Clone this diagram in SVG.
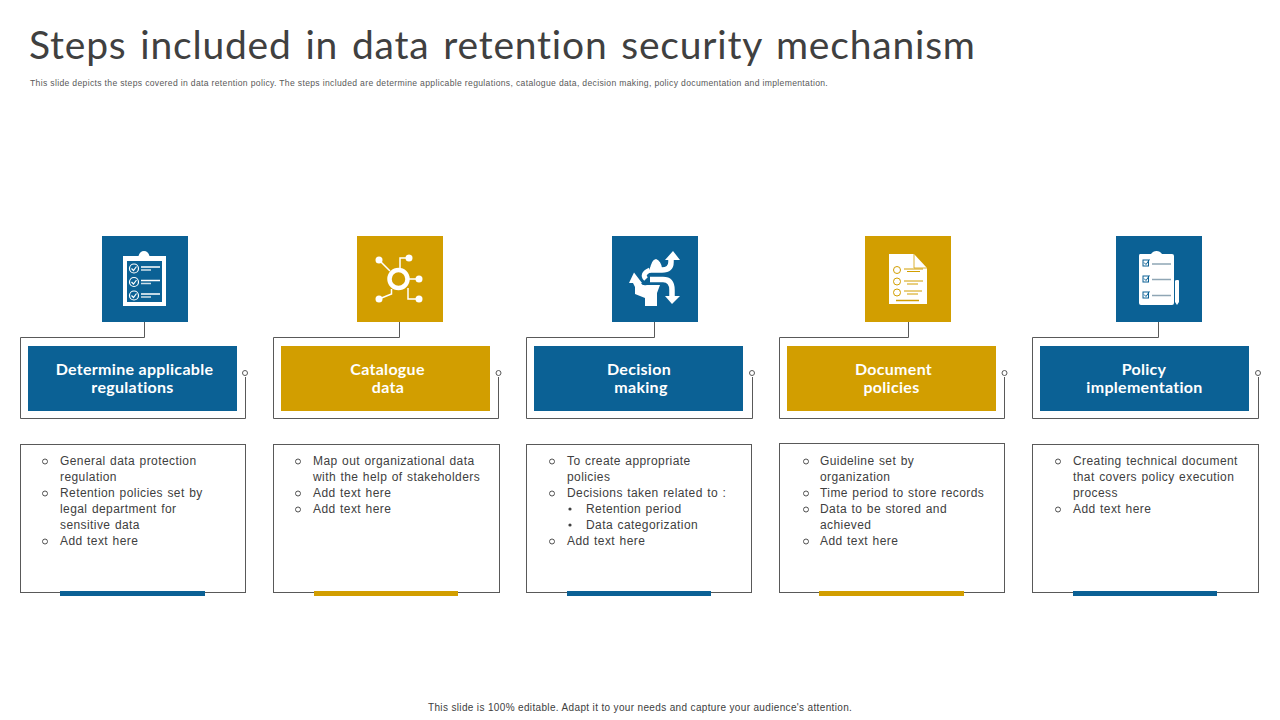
<svg xmlns="http://www.w3.org/2000/svg" width="1280" height="720" viewBox="0 0 1280 720">
<style>
text{font-family:"Liberation Sans",Arial,sans-serif}
.title{font-family:"Lato","Liberation Sans",sans-serif;font-size:39px;font-weight:400;fill:#404040;letter-spacing:.8px;word-spacing:3px}
.sub{font-size:8.6px;fill:#595959;letter-spacing:.33px}
.foot{font-size:10px;fill:#404040;letter-spacing:.35px}
.head{font-family:"Lato","Liberation Sans",sans-serif;font-size:16px;font-weight:700;fill:#fff;text-anchor:middle;letter-spacing:.3px}
.body{font-size:12px;fill:#404040;letter-spacing:.42px;word-spacing:.7px}
.bl{fill:#0b6195}.gd{fill:#d29e00}
.box{fill:#fff;stroke:#595959;stroke-width:1}
.wire{fill:none;stroke:#595959;stroke-width:1}
.dot{fill:#fff;stroke:#595959;stroke-width:1}
.bul{fill:none;stroke:#404040;stroke-width:.9}
.w{fill:#fff}.ws{fill:none;stroke:#fff}
</style>
<text class="title" x="29" y="59">Steps included in data retention security mechanism</text>
<text class="sub" x="30" y="86">This slide depicts the steps covered in data retention policy. The steps included are determine applicable regulations, catalogue data, decision making, policy documentation and implementation.</text>

<g id="connectors">
<path class="wire" d="M144.500 322V337.500H20.500V418.500H245.500V377"/><circle class="dot" cx="245" cy="373" r="2.500"/>
<path class="wire" d="M399.500 322V337.500H273.500V418.500H498.500V377"/><circle class="dot" cx="498.500" cy="373" r="2.500"/>
<path class="wire" d="M654.500 322V337.500H526.500V418.500H752.500V377"/><circle class="dot" cx="752" cy="373" r="2.500"/>
<path class="wire" d="M908.500 322V337.500H779.500V418.500H1004.500V377"/><circle class="dot" cx="1004.500" cy="373" r="2.500"/>
<path class="wire" d="M1158.500 322V337.500H1032.500V418.500H1258.500V377"/><circle class="dot" cx="1258" cy="373" r="2.500"/>
</g>

<g id="node1">
<rect class="bl" x="102" y="236" width="86" height="86"/>
<path class="w" d="M123 256H138.500Q140 251 144 251T149.500 256H166V306H123Z"/>
<rect class="bl" x="127" y="261" width="35" height="41"/>
<g class="ws" stroke-width="1.200"><circle cx="134" cy="268.500" r="4.500"/><circle cx="134" cy="282" r="4.500"/><circle cx="134" cy="295.500" r="4.500"/></g>
<path class="ws" stroke-width="1.200" d="M131.500 268.500l2 2 3-4M131.500 282l2 2 3-4M131.500 295.500l2 2 3-4"/>
<path class="ws" stroke-width="1.500" d="M141 267H160M141 280.500H160M141 294H160"/>
<path class="ws" stroke-width="1.500" d="M141 270H151M141 283.500H151M141 297H151" opacity=".8"/>
<rect class="bl" x="28" y="346" width="209" height="65"/>
<text class="head" x="134.500" y="375">Determine applicable</text>
<text class="head" x="132.500" y="393">regulations</text>
<rect class="box" x="20.500" y="444.500" width="225" height="148"/>
<rect class="bl" x="60" y="591" width="145" height="5"/>
<g class="bul"><circle cx="45" cy="461.500" r="2.500"/><circle cx="45" cy="493.500" r="2.500"/><circle cx="45" cy="541.500" r="2.500"/></g>
<text class="body"><tspan x="60" y="465">General data protection</tspan><tspan x="60" y="481">regulation</tspan><tspan x="60" y="497">Retention policies set by</tspan><tspan x="60" y="513">legal department for</tspan><tspan x="60" y="529">sensitive data</tspan><tspan x="60" y="545">Add text here</tspan></text>
</g>

<g id="node2">
<rect class="gd" x="357" y="236" width="86" height="86"/>
<g class="ws" stroke-width="1.500"><path d="M379 260L390 271M400 268V258H409M408 279H419M408 288V299H419M391.500 289V294L379 299"/></g>
<circle class="ws" cx="398.500" cy="279" r="9" stroke-width="4.500"/>
<g class="w"><circle cx="379" cy="260" r="3.500"/><circle cx="409" cy="258" r="3.500"/><circle cx="419" cy="279" r="3.500"/><circle cx="419" cy="299" r="3.500"/><circle cx="379" cy="299" r="3.500"/></g>
<rect class="gd" x="281" y="346" width="209" height="65"/>
<text class="head" x="387.500" y="375">Catalogue</text>
<text class="head" x="388" y="393">data</text>
<rect class="box" x="273.500" y="444.500" width="226" height="148"/>
<rect class="gd" x="314" y="591" width="144" height="5"/>
<g class="bul"><circle cx="298" cy="461.500" r="2.500"/><circle cx="298" cy="493.500" r="2.500"/><circle cx="298" cy="509.500" r="2.500"/></g>
<text class="body"><tspan x="313" y="465">Map out organizational data</tspan><tspan x="313" y="481">with the help of stakeholders</tspan><tspan x="313" y="497">Add text here</tspan><tspan x="313" y="513">Add text here</tspan></text>
</g>

<g id="node3">
<rect class="bl" x="612" y="236" width="86" height="86"/>
<path class="ws" stroke-width="5.500" d="M650 270H662Q671 270 671 262V258M650 279.500H663Q672 279.500 672 290V297"/>
<path class="w" d="M673 251L680 260H665ZM665 296H680L672 304ZM634 272.500L642 283H629ZM650 270Q651 260 656 259Q661 261 662 268L650 270ZM633 283H641Q642 286 647 285L660 285L657 293V306H645V298L635 294V287Z"/>
<path class="ws" stroke-width="5" d="M650 270Q641 274 646 279"/>
<path d="M649 274H664" stroke="#0b6195" stroke-width="1.500"/>
<rect class="bl" x="534" y="346" width="209" height="65"/>
<text class="head" x="639" y="375">Decision</text>
<text class="head" x="641" y="393">making</text>
<rect class="box" x="526.500" y="444.500" width="225" height="148"/>
<rect class="bl" x="567" y="591" width="144" height="5"/>
<g class="bul"><circle cx="552" cy="461.500" r="2.500"/><circle cx="552" cy="493.500" r="2.500"/><circle cx="552" cy="541.500" r="2.500"/></g>
<circle cx="570" cy="509" r="1.600" fill="#404040"/><circle cx="570" cy="525" r="1.600" fill="#404040"/>
<text class="body"><tspan x="567" y="465">To create appropriate</tspan><tspan x="567" y="481">policies</tspan><tspan x="567" y="497">Decisions taken related to :</tspan><tspan x="586" y="513">Retention period</tspan><tspan x="586" y="529">Data categorization</tspan><tspan x="567" y="545">Add text here</tspan></text>
</g>

<g id="node4">
<rect class="gd" x="865" y="236" width="86" height="86"/>
<path class="w" d="M889 254H914L927 268V304H889Z"/>
<path d="M914 254V268H927" fill="none" stroke="#d29e00" stroke-width=".8"/>
<g fill="none" stroke="#d29e00" stroke-width="1"><circle cx="897" cy="270" r="3.500"/><circle cx="897" cy="281.500" r="3.500"/><circle cx="897" cy="292.500" r="3.500"/><path d="M904 269H923M907 271.500H920M904 281H923M907 284H918M904 291H922M907 294H918"/></g>
<path d="M896 300.500H919" stroke="#d29e00" stroke-width="1.500"/>
<rect class="gd" x="787" y="346" width="209" height="65"/>
<text class="head" x="893.500" y="375">Document</text>
<text class="head" x="891.500" y="393">policies</text>
<rect class="box" x="779.500" y="443.500" width="225" height="149"/>
<rect class="gd" x="819" y="591" width="145" height="5"/>
<g class="bul"><circle cx="806" cy="461.500" r="2.500"/><circle cx="806" cy="493.500" r="2.500"/><circle cx="806" cy="509.500" r="2.500"/><circle cx="806" cy="541.500" r="2.500"/></g>
<text class="body"><tspan x="820" y="465">Guideline set by</tspan><tspan x="820" y="481">organization</tspan><tspan x="820" y="497">Time period to store records</tspan><tspan x="820" y="513">Data to be stored and</tspan><tspan x="820" y="529">achieved</tspan><tspan x="820" y="545">Add text here</tspan></text>
</g>

<g id="node5">
<rect class="bl" x="1116" y="236" width="86" height="86"/>
<path class="w" d="M1140 254H1151Q1153 251 1156.500 251T1162 254H1172Q1174 254 1174 256V303Q1174 305 1172 305H1141Q1139 305 1139 303V256Q1139 254 1140 254Z"/>
<path class="w" d="M1175 281Q1175 280 1177 280H1178Q1179 280 1179 281V302L1177 305L1175 302Z"/>
<g fill="none" stroke="#0b6195" stroke-width="1"><rect x="1143" y="260" width="5.500" height="6"/><rect x="1143" y="276" width="5.500" height="6"/><rect x="1143" y="292" width="5.500" height="6"/><path d="M1144 262.500l2 2 3.500-5M1144 278.500l2 2 3.500-5M1144 294.500l2 2 3.500-5"/></g>
<path d="M1152 264H1171M1152 279.500H1171M1152 295.500H1171" stroke="#8fa6b5" stroke-width="1.300"/>
<rect class="bl" x="1040" y="346" width="209" height="65"/>
<text class="head" x="1144" y="375">Policy</text>
<text class="head" x="1144.500" y="393">implementation</text>
<rect class="box" x="1032.500" y="444.500" width="226" height="148"/>
<rect class="bl" x="1073" y="591" width="144" height="5"/>
<g class="bul"><circle cx="1058" cy="461.500" r="2.500"/><circle cx="1058" cy="509.500" r="2.500"/></g>
<text class="body"><tspan x="1073" y="465">Creating technical document</tspan><tspan x="1073" y="481">that covers policy execution</tspan><tspan x="1073" y="497">process</tspan><tspan x="1073" y="513">Add text here</tspan></text>
</g>

<text class="foot" x="428" y="711">This slide is 100% editable. Adapt it to your needs and capture your audience's attention.</text>
</svg>
